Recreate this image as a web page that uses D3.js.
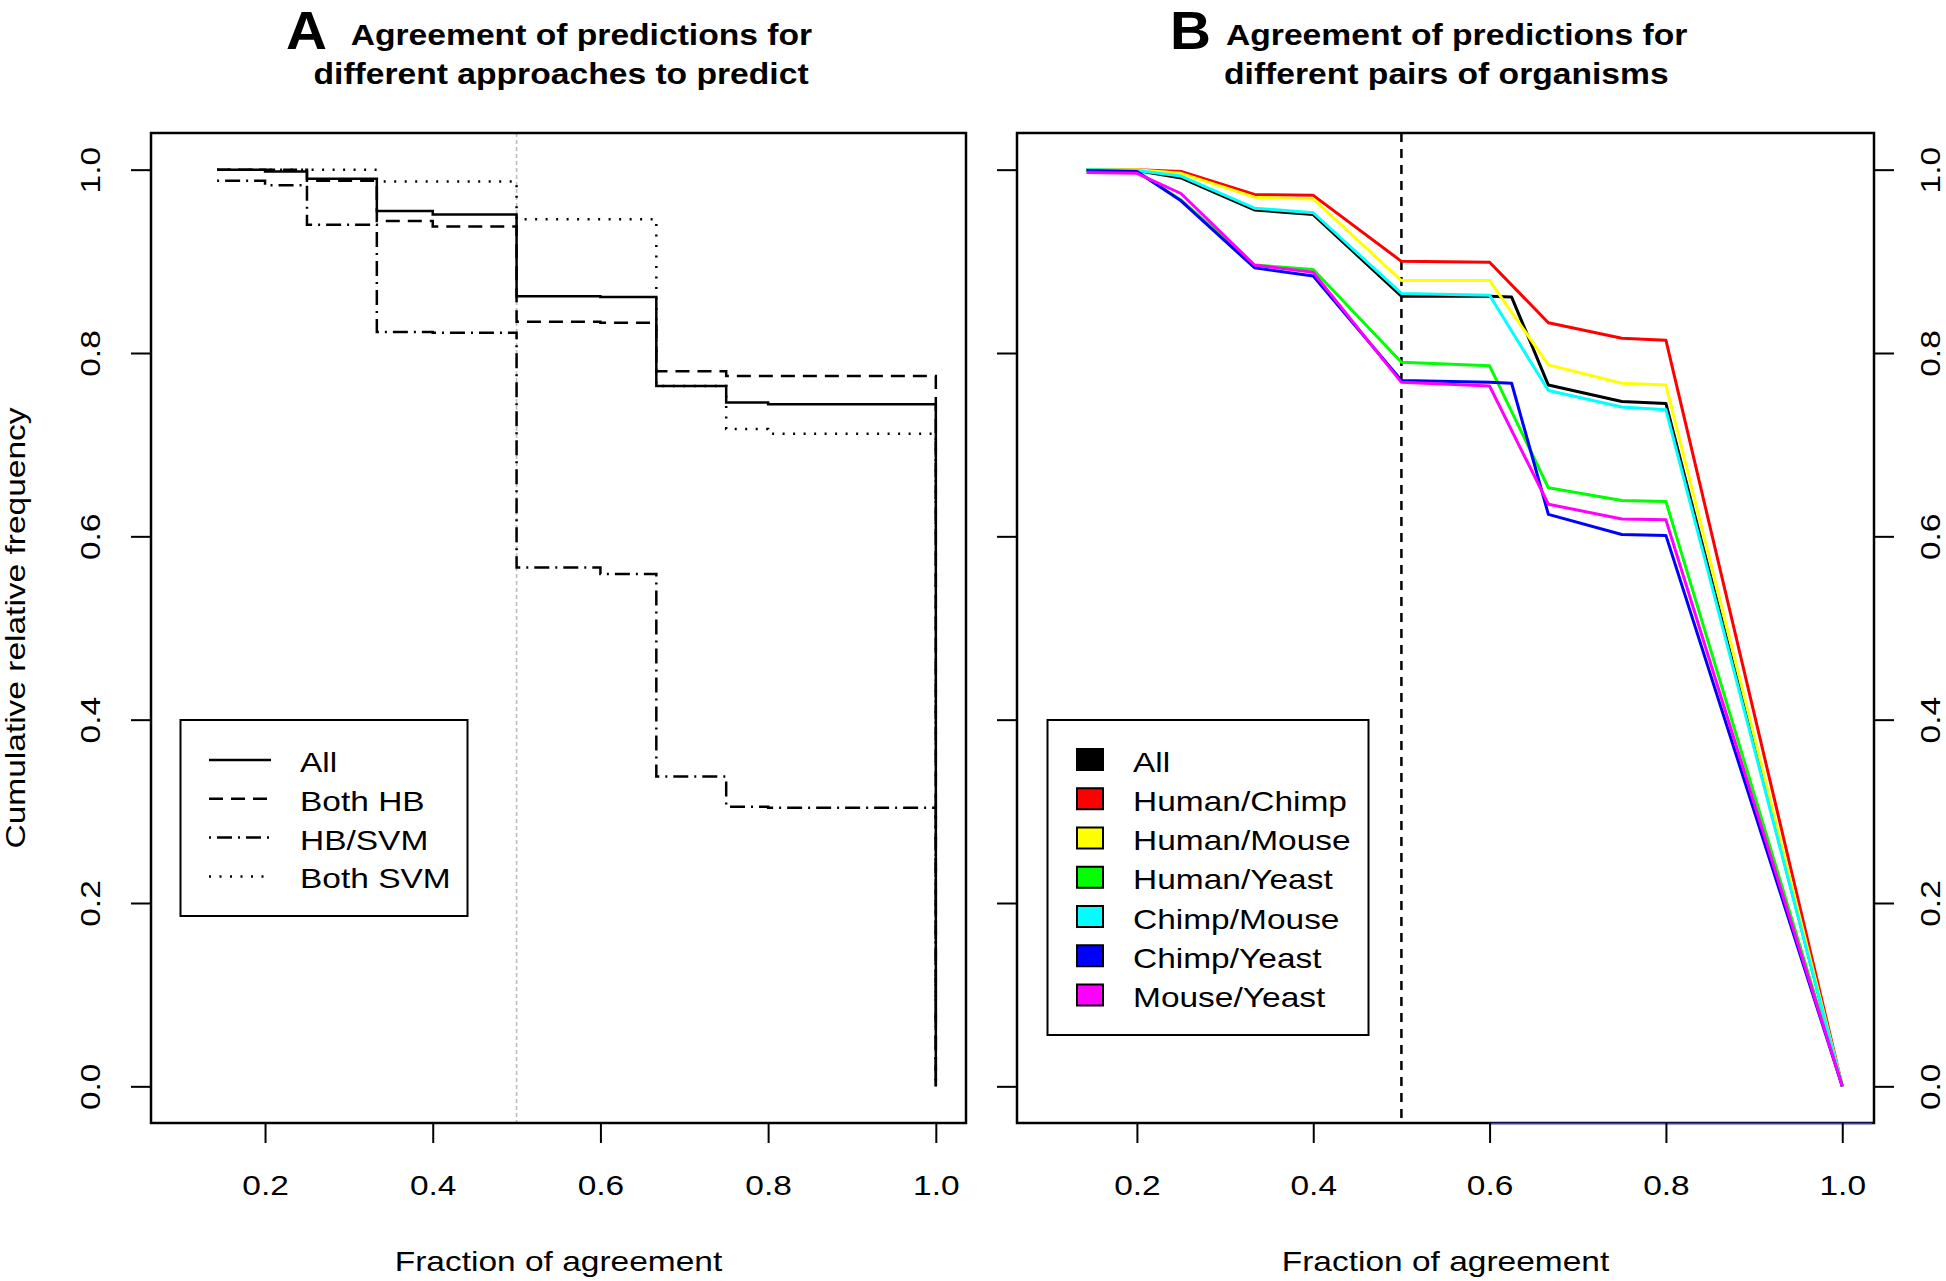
<!DOCTYPE html>
<html>
<head>
<meta charset="utf-8">
<script src="https://cdn.jsdelivr.net/npm/d3@7"></script>
<style>
  html, body { margin: 0; padding: 0; background: #fff; }
  svg { display: block; }
  text { font-family: "Liberation Sans", Arial, Helvetica, sans-serif; fill: #000; }
</style>
</head>
<body>
<svg id="chart" width="1946" height="1281"></svg>
<script>
// ---------------- DATA ----------------
const xTicks = [0.2, 0.4, 0.6, 0.8, 1.0];
const yTicks = [0.0, 0.2, 0.4, 0.6, 0.8, 1.0];

// Panel A: step curves
const xA = [1/7, 0.2, 0.25, 1/3, 0.4, 0.5, 0.6, 2/3, 0.75, 0.8, 1.0];
const seriesNamesA = ["All", "Both HB", "HB/SVM", "Both SVM"];
const yA_All     = [1.000, 0.998, 0.990, 0.955, 0.951, 0.862, 0.861, 0.764, 0.746, 0.744, 0];
const yA_BothHB  = [1.000, 1.000, 0.988, 0.944, 0.938, 0.834, 0.833, 0.780, 0.775, 0.775, 0];
const yA_HBSVM   = [0.988, 0.983, 0.940, 0.823, 0.822, 0.566, 0.559, 0.338, 0.305, 0.304, 0];
const yA_BothSVM = [1.000, 1.000, 1.000, 0.987, 0.987, 0.946, 0.946, 0.764, 0.717, 0.712, 0];

// Panel B: polylines (null = no point at that x for that pair)
const xB = [1/7, 0.2, 0.25, 1/3, 0.4, 0.5, 0.6, 0.625, 2/3, 0.75, 0.8, 1.0];
const seriesNamesB = ["All", "Human/Chimp", "Human/Mouse", "Human/Yeast", "Chimp/Mouse", "Chimp/Yeast", "Mouse/Yeast"];
const yB_All         = [1.000, 0.999, 0.991, 0.956, 0.951, 0.862, 0.862, 0.861, 0.765, 0.747, 0.745, 0];
const yB_HumanChimp  = [1.000, 1.000, 0.998, 0.973, 0.972, 0.900, 0.899, null,  0.833, 0.816, 0.814, 0];
const yB_HumanMouse  = [1.000, 1.000, 0.996, 0.970, 0.968, 0.879, 0.879, null,  0.787, 0.767, 0.765, 0];
const yB_HumanYeast  = [1.000, 0.998, 0.967, 0.896, 0.891, 0.790, 0.786, null,  0.653, 0.639, 0.638, 0];
const yB_ChimpMouse  = [1.000, 0.999, 0.993, 0.958, 0.953, 0.865, 0.863, null,  0.759, 0.741, 0.738, 0];
const yB_ChimpYeast  = [0.999, 0.998, 0.966, 0.893, 0.884, 0.770, 0.768, 0.767, 0.624, 0.602, 0.601, 0];
const yB_MouseYeast  = [0.997, 0.996, 0.974, 0.896, 0.888, 0.768, 0.764, null,  0.635, 0.619, 0.618, 0];
const colorsB = ["#000000", "#ff0000", "#ffff00", "#00ff00", "#00ffff", "#0000ff", "#ff00ff"];

// ---------------- LAYOUT ----------------
const svg = d3.select("#chart");
const K = 1.24;      // horizontal widening of the glyphs
const FS = 27;       // base font size
const plotTop = 133, plotBottom = 1123;
const panelA = {left: 151, right: 966};
const panelB = {left: 1017, right: 1874};
const xDomain = [0.064, 1.036];
const yDomain = [-0.04, 1.04];

const xScaleA = d3.scaleLinear().domain(xDomain).range([panelA.left, panelA.right]);
const xScaleB = d3.scaleLinear().domain(xDomain).range([panelB.left, panelB.right]);
const yScale = d3.scaleLinear().domain(yDomain).range([plotBottom, plotTop]);

function txt(parent, x, y, str, o = {}) {
  const size = o.size || FS, k = o.k == null ? K : o.k, rot = o.rot || 0;
  return parent.append("text")
    .attr("transform", `translate(${x},${y}) rotate(${rot}) scale(${k},1)`)
    .attr("text-anchor", o.anchor || "start")
    .style("font-size", size + "px")
    .style("font-weight", o.weight || "normal")
    .text(str);
}

function styleAxis(g, kind) {
  g.select(".domain").remove();
  g.selectAll(".tick line").attr("stroke", "#000").attr("stroke-width", 2);
  const t = g.selectAll(".tick text").style("font-size", FS + "px")
    .style("font-family", '"Liberation Sans", Arial, sans-serif').attr("fill", "#000").attr("dy", null);
  if (kind === "bottom") {
    t.attr("y", 72).attr("transform", `scale(${K},1)`);
  } else if (kind === "left") {
    t.attr("x", 0).attr("y", -51).attr("text-anchor", "middle").attr("transform", `rotate(-90) scale(${K},1)`);
  } else if (kind === "right") {
    t.attr("x", 0).attr("y", 66).attr("text-anchor", "middle").attr("transform", `rotate(-90) scale(${K},1)`);
  }
}

// ---------------- PANEL A ----------------
const gA = svg.append("g");
gA.append("line")
  .attr("x1", xScaleA(0.5)).attr("x2", xScaleA(0.5))
  .attr("y1", plotTop).attr("y2", plotBottom)
  .attr("stroke", "#bdbdbd").attr("stroke-width", 1.6).attr("stroke-dasharray", "4,3");

const stepLine = d3.line().x(d => xScaleA(d[0])).y(d => yScale(d[1])).curve(d3.curveStepAfter);
const seriesA = [yA_All, yA_BothHB, yA_HBSVM, yA_BothSVM];
const dashA = [null, "14,8", "2,6,15,6", "2,8.5"];
[3, 2, 1, 0].forEach(i => {
  const pts = xA.map((x, j) => [x, seriesA[i][j]]);
  gA.append("path").attr("d", stepLine(pts))
    .attr("fill", "none").attr("stroke", "#000").attr("stroke-width", 2.5)
    .attr("stroke-dasharray", dashA[i]);
});

gA.append("rect").attr("x", panelA.left).attr("y", plotTop)
  .attr("width", panelA.right - panelA.left).attr("height", plotBottom - plotTop)
  .attr("fill", "none").attr("stroke", "#000").attr("stroke-width", 2.5);

gA.append("g").attr("transform", `translate(0,${plotBottom})`)
  .call(d3.axisBottom(xScaleA).tickValues(xTicks).tickSize(20).tickPadding(0).tickFormat(d3.format(".1f")))
  .call(g => styleAxis(g, "bottom"));
gA.append("g").attr("transform", `translate(${panelA.left},0)`)
  .call(d3.axisLeft(yScale).tickValues(yTicks).tickSize(20).tickFormat(d3.format(".1f")))
  .call(g => styleAxis(g, "left"));

const legA = gA.append("g");
legA.append("rect").attr("x", 180.5).attr("y", 720).attr("width", 287).attr("height", 196)
  .attr("fill", "#fff").attr("stroke", "#000").attr("stroke-width", 2);
seriesNamesA.forEach((name, i) => {
  const yy = 760 + 38.8 * i;
  legA.append("line").attr("x1", 209).attr("x2", 271).attr("y1", yy).attr("y2", yy)
    .attr("stroke", "#000").attr("stroke-width", 2.5).attr("stroke-dasharray", dashA[i]);
  txt(legA, 300, yy + 12, name);
});

txt(svg, 286, 49, "A", {size: 54, k: 1.05, weight: "bold"});
txt(svg, 350.7, 45, "Agreement of predictions for", {size: 29, k: 1.16, weight: "bold"});
txt(svg, 313.5, 84, "different approaches to predict", {size: 29, k: 1.16, weight: "bold"});
txt(svg, (panelA.left + panelA.right) / 2, 1271, "Fraction of agreement", {anchor: "middle"});
txt(svg, 25, (plotTop + plotBottom) / 2, "Cumulative relative frequency", {anchor: "middle", rot: -90});

// ---------------- PANEL B ----------------
const gB = svg.append("g");
gB.append("line")
  .attr("x1", xScaleB(0.5)).attr("x2", xScaleB(0.5))
  .attr("y1", plotTop).attr("y2", plotBottom)
  .attr("stroke", "#000").attr("stroke-width", 2.5).attr("stroke-dasharray", "9,7");

const polyLine = d3.line().x(d => xScaleB(d[0])).y(d => yScale(d[1]));
const seriesB = [yB_All, yB_HumanChimp, yB_HumanMouse, yB_HumanYeast, yB_ChimpMouse, yB_ChimpYeast, yB_MouseYeast];
seriesB.forEach((ys, i) => {
  const pts = xB.map((x, j) => [x, ys[j]]).filter(d => d[1] != null);
  gB.append("path").attr("d", polyLine(pts))
    .attr("fill", "none").attr("stroke", colorsB[i]).attr("stroke-width", 3)
    .attr("stroke-linejoin", "round");
});

gB.append("rect").attr("x", panelB.left).attr("y", plotTop)
  .attr("width", panelB.right - panelB.left).attr("height", plotBottom - plotTop)
  .attr("fill", "none").attr("stroke", "#000").attr("stroke-width", 2.5);
gB.append("line").attr("x1", xScaleB(0.6)).attr("x2", panelB.right - 2)
  .attr("y1", plotBottom + 0.5).attr("y2", plotBottom + 0.5)
  .attr("stroke", "#3a3aff").attr("stroke-width", 1.5);

gB.append("g").attr("transform", `translate(0,${plotBottom})`)
  .call(d3.axisBottom(xScaleB).tickValues(xTicks).tickSize(20).tickPadding(0).tickFormat(d3.format(".1f")))
  .call(g => styleAxis(g, "bottom"));
gB.append("g").attr("transform", `translate(${panelB.left},0)`)
  .call(d3.axisLeft(yScale).tickValues(yTicks).tickSize(20).tickFormat(""))
  .call(g => styleAxis(g, "none"));
gB.append("g").attr("transform", `translate(${panelB.right},0)`)
  .call(d3.axisRight(yScale).tickValues(yTicks).tickSize(20).tickFormat(d3.format(".1f")))
  .call(g => styleAxis(g, "right"));

const legB = gB.append("g");
legB.append("rect").attr("x", 1047.5).attr("y", 720).attr("width", 321).attr("height", 315)
  .attr("fill", "#fff").attr("stroke", "#000").attr("stroke-width", 2);
seriesNamesB.forEach((name, i) => {
  const yy = 759.5 + 39.25 * i;
  legB.append("rect").attr("x", 1077).attr("y", yy - 10.5).attr("width", 26).attr("height", 21)
    .attr("fill", colorsB[i]).attr("stroke", "#000").attr("stroke-width", 2);
  txt(legB, 1133, yy + 12, name);
});

txt(svg, 1170, 49, "B", {size: 54, k: 1.05, weight: "bold"});
txt(svg, 1226, 45, "Agreement of predictions for", {size: 29, k: 1.16, weight: "bold"});
txt(svg, 1224, 84, "different pairs of organisms", {size: 29, k: 1.16, weight: "bold"});
txt(svg, (panelB.left + panelB.right) / 2, 1271, "Fraction of agreement", {anchor: "middle"});
</script>
</body>
</html>
